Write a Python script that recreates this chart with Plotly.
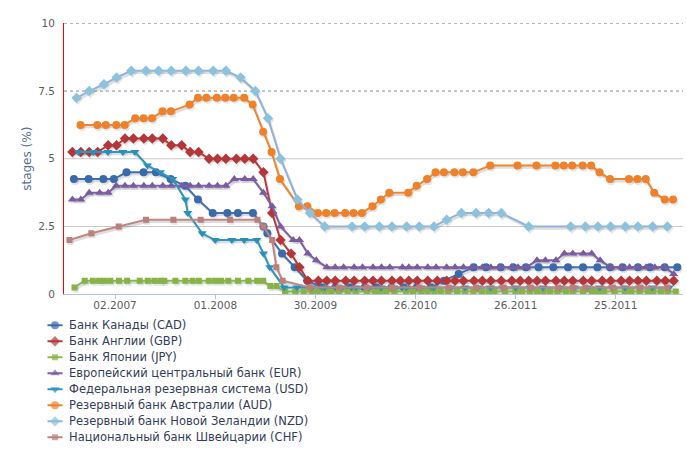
import plotly.graph_objects as go

# ---------------- data ----------------
tick_dates = ["2007-06-02", "2008-05-01", "2009-03-30", "2010-02-26", "2011-01-26", "2011-12-25"]
y_ticks = [0, 2.5, 5, 7.5, 10]

cad_dates = ["2007-01-16", "2007-03-06", "2007-04-24", "2007-05-29", "2007-07-10", "2007-09-05", "2007-10-16", "2007-12-04",
             "2008-01-22", "2008-03-04", "2008-04-22", "2008-06-10", "2008-07-15", "2008-09-03", "2008-10-08", "2008-10-21", "2008-12-09",
             "2009-01-20", "2009-03-03", "2009-04-21", "2009-06-04", "2009-07-23", "2009-09-10", "2009-10-20", "2009-12-08",
             "2010-01-19", "2010-03-02", "2010-04-20", "2010-06-01", "2010-07-20", "2010-09-08", "2010-10-19", "2010-12-07",
             "2011-01-18", "2011-03-01", "2011-04-12", "2011-05-31", "2011-07-19", "2011-09-07", "2011-10-25", "2011-12-06",
             "2012-01-17", "2012-03-08", "2012-04-17", "2012-06-05", "2012-07-17"]
cad_rates = [4.25, 4.25, 4.25, 4.25, 4.5, 4.5, 4.5, 4.25,
             4.0, 3.5, 3.0, 3.0, 3.0, 3.0, 2.5, 2.25, 1.5,
             1.0, 0.5, 0.25, 0.25, 0.25, 0.25, 0.25, 0.25,
             0.25, 0.25, 0.25, 0.5, 0.75, 1.0, 1.0, 1.0,
             1.0, 1.0, 1.0, 1.0, 1.0, 1.0, 1.0, 1.0,
             1.0, 1.0, 1.0, 1.0, 1.0]

gbp_dates = ["2007-01-11", "2007-02-08", "2007-03-08", "2007-04-05", "2007-05-10", "2007-06-07", "2007-07-05", "2007-08-02", "2007-09-06", "2007-10-04", "2007-11-08", "2007-12-06",
             "2008-01-10", "2008-02-07", "2008-03-06", "2008-04-10", "2008-05-08", "2008-06-05", "2008-07-10", "2008-08-07", "2008-09-04", "2008-10-08", "2008-11-06", "2008-12-04",
             "2009-01-08", "2009-02-05", "2009-03-05", "2009-04-09", "2009-05-07", "2009-06-04", "2009-07-09", "2009-08-06", "2009-09-10", "2009-10-08", "2009-11-05", "2009-12-10",
             "2010-01-07", "2010-02-04", "2010-03-04", "2010-04-08", "2010-05-10", "2010-06-10", "2010-07-08", "2010-08-05", "2010-09-09", "2010-10-07", "2010-11-04", "2010-12-09",
             "2011-01-13", "2011-02-10", "2011-03-10", "2011-04-07", "2011-05-05", "2011-06-09", "2011-07-07", "2011-08-04", "2011-09-08", "2011-10-06", "2011-11-10", "2011-12-08",
             "2012-01-12", "2012-02-09", "2012-03-08", "2012-04-05", "2012-05-10", "2012-06-07", "2012-07-05"]
gbp_rates = [5.25, 5.25, 5.25, 5.25, 5.5, 5.5, 5.75, 5.75, 5.75, 5.75, 5.75, 5.5,
             5.5, 5.25, 5.25, 5.0, 5.0, 5.0, 5.0, 5.0, 5.0, 4.5, 3.0, 2.0,
             1.5, 1.0, 0.5, 0.5, 0.5, 0.5, 0.5, 0.5, 0.5, 0.5, 0.5, 0.5,
             0.5, 0.5, 0.5, 0.5, 0.5, 0.5, 0.5, 0.5, 0.5, 0.5, 0.5, 0.5,
             0.5, 0.5, 0.5, 0.5, 0.5, 0.5, 0.5, 0.5, 0.5, 0.5, 0.5, 0.5,
             0.5, 0.5, 0.5, 0.5, 0.5, 0.5, 0.5]

jpy_dates = ["2007-01-18", "2007-02-21", "2007-03-20", "2007-04-10", "2007-04-27", "2007-05-17", "2007-06-15", "2007-07-12", "2007-08-23", "2007-09-19", "2007-10-11", "2007-10-31", "2007-11-13", "2007-12-20",
             "2008-01-22", "2008-02-15", "2008-03-07", "2008-04-09", "2008-04-30", "2008-05-20", "2008-06-13", "2008-07-15", "2008-08-19", "2008-09-17", "2008-10-07", "2008-10-31", "2008-11-21", "2008-12-19",
             "2009-01-22", "2009-02-19", "2009-03-18", "2009-04-07", "2009-04-30", "2009-05-22", "2009-06-16", "2009-07-15", "2009-08-11", "2009-09-17", "2009-10-14", "2009-10-30", "2009-11-20", "2009-12-18",
             "2010-01-26", "2010-02-18", "2010-03-17", "2010-04-07", "2010-04-30", "2010-05-21", "2010-06-15", "2010-07-15", "2010-08-10", "2010-09-07", "2010-10-05", "2010-10-28", "2010-11-16", "2010-12-21",
             "2011-01-25", "2011-02-15", "2011-03-14", "2011-04-07", "2011-04-28", "2011-05-20", "2011-06-14", "2011-07-12", "2011-08-04", "2011-09-07", "2011-10-07", "2011-10-27", "2011-11-16", "2011-12-21",
             "2012-01-24", "2012-02-14", "2012-03-13", "2012-04-10", "2012-04-27", "2012-05-23", "2012-06-15", "2012-07-12"]
jpy_rates = [0.25, 0.5, 0.5, 0.5, 0.5, 0.5, 0.5, 0.5, 0.5, 0.5, 0.5, 0.5, 0.5, 0.5,
             0.5, 0.5, 0.5, 0.5, 0.5, 0.5, 0.5, 0.5, 0.5, 0.5, 0.5, 0.3, 0.3, 0.1,
             0.1, 0.1, 0.1, 0.1, 0.1, 0.1, 0.1, 0.1, 0.1, 0.1, 0.1, 0.1, 0.1, 0.1,
             0.1, 0.1, 0.1, 0.1, 0.1, 0.1, 0.1, 0.1, 0.1, 0.1, 0.1, 0.1, 0.1, 0.1,
             0.1, 0.1, 0.1, 0.1, 0.1, 0.1, 0.1, 0.1, 0.1, 0.1, 0.1, 0.1, 0.1, 0.1,
             0.1, 0.1, 0.1, 0.1, 0.1, 0.1, 0.1, 0.1]

eur_dates = ["2007-01-11", "2007-02-08", "2007-03-08", "2007-04-12", "2007-05-10", "2007-06-06", "2007-07-05", "2007-08-02", "2007-09-06", "2007-10-04", "2007-11-08", "2007-12-06",
             "2008-01-10", "2008-02-07", "2008-03-06", "2008-04-10", "2008-05-08", "2008-06-05", "2008-07-03", "2008-08-07", "2008-09-04", "2008-10-08", "2008-11-06", "2008-12-04",
             "2009-01-15", "2009-02-05", "2009-03-05", "2009-04-02", "2009-05-07", "2009-06-04", "2009-07-02", "2009-08-06", "2009-09-03", "2009-10-08", "2009-11-05", "2009-12-03",
             "2010-01-14", "2010-02-04", "2010-03-04", "2010-04-08", "2010-05-06", "2010-06-10", "2010-07-08", "2010-08-05", "2010-09-02", "2010-10-07", "2010-11-04", "2010-12-02",
             "2011-01-13", "2011-02-03", "2011-03-03", "2011-04-07", "2011-05-05", "2011-06-09", "2011-07-07", "2011-08-04", "2011-09-08", "2011-10-06", "2011-11-03", "2011-12-08",
             "2012-01-12", "2012-02-09", "2012-03-08", "2012-04-04", "2012-05-03", "2012-06-06", "2012-07-05"]
eur_rates = [3.5, 3.5, 3.75, 3.75, 3.75, 4.0, 4.0, 4.0, 4.0, 4.0, 4.0, 4.0,
             4.0, 4.0, 4.0, 4.0, 4.0, 4.0, 4.25, 4.25, 4.25, 3.75, 3.25, 2.5,
             2.0, 2.0, 1.5, 1.25, 1.0, 1.0, 1.0, 1.0, 1.0, 1.0, 1.0, 1.0,
             1.0, 1.0, 1.0, 1.0, 1.0, 1.0, 1.0, 1.0, 1.0, 1.0, 1.0, 1.0,
             1.0, 1.0, 1.0, 1.25, 1.25, 1.25, 1.5, 1.5, 1.5, 1.5, 1.25, 1.0,
             1.0, 1.0, 1.0, 1.0, 1.0, 1.0, 0.75]

usd_dates = ["2007-01-31", "2007-03-21", "2007-05-09", "2007-06-28", "2007-08-07", "2007-09-18", "2007-10-31", "2007-12-11",
             "2008-01-22", "2008-01-30", "2008-03-18", "2008-04-30", "2008-06-25", "2008-08-05", "2008-09-16", "2008-10-08", "2008-10-29", "2008-12-16",
             "2009-01-28", "2009-03-18", "2009-04-29", "2009-06-24", "2009-08-12", "2009-09-23", "2009-11-04", "2009-12-16",
             "2010-01-27", "2010-03-16", "2010-04-28", "2010-06-23", "2010-08-10", "2010-09-21", "2010-11-03", "2010-12-14",
             "2011-01-26", "2011-03-15", "2011-04-27", "2011-06-22", "2011-08-09", "2011-09-21", "2011-11-02", "2011-12-13",
             "2012-01-25", "2012-03-13", "2012-04-25", "2012-06-20"]
usd_rates = [5.25, 5.25, 5.25, 5.25, 5.25, 4.75, 4.5, 4.25,
             3.5, 3.0, 2.25, 2.0, 2.0, 2.0, 2.0, 1.5, 1.0, 0.25,
             0.25, 0.25, 0.25, 0.25, 0.25, 0.25, 0.25, 0.25,
             0.25, 0.25, 0.25, 0.25, 0.25, 0.25, 0.25, 0.25,
             0.25, 0.25, 0.25, 0.25, 0.25, 0.25, 0.25, 0.25,
             0.25, 0.25, 0.25, 0.25]

aud_dates = ["2007-02-07", "2007-04-04", "2007-05-02", "2007-06-06", "2007-07-04", "2007-08-08", "2007-09-05", "2007-10-03", "2007-11-07", "2007-12-05",
             "2008-02-05", "2008-03-04", "2008-04-01", "2008-05-06", "2008-06-03", "2008-07-01", "2008-08-05", "2008-09-02", "2008-10-07", "2008-11-04", "2008-12-02",
             "2009-02-03", "2009-03-03", "2009-04-07", "2009-05-05", "2009-06-02", "2009-07-07", "2009-08-04", "2009-09-01", "2009-10-06", "2009-11-03", "2009-12-01",
             "2010-02-02", "2010-03-02", "2010-04-06", "2010-05-04", "2010-06-01", "2010-07-06", "2010-08-03", "2010-09-07", "2010-11-02",
             "2011-02-01", "2011-04-05", "2011-06-07", "2011-07-05", "2011-08-02", "2011-09-06", "2011-10-04", "2011-11-01", "2011-12-06",
             "2012-02-07", "2012-03-06", "2012-04-03", "2012-05-01", "2012-06-05", "2012-07-03"]
aud_rates = [6.25, 6.25, 6.25, 6.25, 6.25, 6.5, 6.5, 6.5, 6.75, 6.75,
             7.0, 7.25, 7.25, 7.25, 7.25, 7.25, 7.25, 7.0, 6.0, 5.25, 4.25,
             3.25, 3.25, 3.0, 3.0, 3.0, 3.0, 3.0, 3.0, 3.25, 3.5, 3.75,
             3.75, 4.0, 4.25, 4.5, 4.5, 4.5, 4.5, 4.5, 4.75,
             4.75, 4.75, 4.75, 4.75, 4.75, 4.75, 4.75, 4.5, 4.25,
             4.25, 4.25, 4.25, 3.75, 3.5, 3.5]

nzd_dates = ["2007-01-25", "2007-03-08", "2007-04-26", "2007-06-07", "2007-07-26", "2007-09-13", "2007-10-25", "2007-12-06",
             "2008-01-24", "2008-03-06", "2008-04-24", "2008-06-05", "2008-07-24", "2008-09-11", "2008-10-23", "2008-12-04",
             "2009-01-29", "2009-03-12", "2009-04-30", "2009-07-30", "2009-09-10", "2009-10-29", "2009-12-10",
             "2010-01-28", "2010-03-11", "2010-04-29", "2010-06-10", "2010-07-29", "2010-09-16", "2010-10-28", "2010-12-09",
             "2011-03-10", "2011-07-28", "2011-09-15", "2011-10-27", "2011-12-08",
             "2012-01-26", "2012-03-08", "2012-04-26", "2012-06-14"]
nzd_rates = [7.25, 7.5, 7.75, 8.0, 8.25, 8.25, 8.25, 8.25,
             8.25, 8.25, 8.25, 8.25, 8.0, 7.5, 6.5, 5.0,
             3.5, 3.0, 2.5, 2.5, 2.5, 2.5, 2.5,
             2.5, 2.5, 2.5, 2.75, 3.0, 3.0, 3.0, 3.0,
             2.5, 2.5, 2.5, 2.5, 2.5,
             2.5, 2.5, 2.5, 2.5]

chf_dates = ["2007-01-01", "2007-03-15", "2007-06-14", "2007-09-13", "2007-12-13",
             "2008-03-13", "2008-06-19", "2008-09-18", "2008-10-08", "2008-11-06", "2008-11-20", "2008-12-11",
             "2009-03-12", "2009-06-18", "2009-09-17", "2009-12-10",
             "2010-03-11", "2010-06-17", "2010-09-16", "2010-12-16",
             "2011-03-17", "2011-06-16", "2011-08-03", "2011-09-15", "2011-12-15",
             "2012-03-15", "2012-06-14"]
chf_rates = [2.0, 2.25, 2.5, 2.75, 2.75,
             2.75, 2.75, 2.75, 2.5, 2.0, 1.0, 0.5,
             0.25, 0.25, 0.25, 0.25,
             0.25, 0.25, 0.25, 0.25,
             0.25, 0.25, 0.25, 0.25, 0.25,
             0.25, 0.25]

series_names = ["Банк Канады (CAD)", "Банк Англии (GBP)", "Банк Японии (JPY)",
                "Европейский центральный банк (EUR)", "Федеральная резервная система (USD)",
                "Резервный банк Австралии (AUD)", "Резервный банк Новой Зеландии (NZD)",
                "Национальный банк Швейцарии (CHF)"]
series_x = [cad_dates, gbp_dates, jpy_dates, eur_dates, usd_dates, aud_dates, nzd_dates, chf_dates]
series_y = [cad_rates, gbp_rates, jpy_rates, eur_rates, usd_rates, aud_rates, nzd_rates, chf_rates]

# ---------------- style ----------------
line_colors = ["#3f70b3", "#bb3b3d", "#8cb84c", "#7e60a5", "#2f96c0", "#f0852f", "#90b2dc", "#c08581"]
marker_colors = ["#3a6aab", "#b53639", "#86b246", "#7a5ba1", "#2a90ba", "#ee8129", "#8cc2dd", "#bb807c"]
symbols = ["circle", "diamond", "square", "triangle-up", "triangle-down", "circle", "diamond", "square"]
msizes = [8, 8, 6, 8, 8, 8, 8, 6]

W, H = 687, 451
PL, PR, PT, PB = 64, 683, 17.8, 296.1
FONT = "DejaVu Sans"
X_RANGE = ["2006-12-14", "2012-08-05"]
SHADOW_X_RANGE = ["2006-12-10", "2012-08-01"]   # shadow ~1px to the right
SHADOW_DY = 0.075                                # shadow ~2px lower

fig = go.Figure()

# soft drop shadows (base axes, hidden)
for xs, ys, sym, ms in zip(series_x, series_y, symbols, msizes):
    fig.add_trace(go.Scatter(
        x=xs, y=ys, mode="lines+markers",
        line=dict(color="rgba(0,0,0,0.13)", width=2.5),
        marker=dict(symbol=sym, size=ms, color="rgba(0,0,0,0.10)", line=dict(width=0)),
        xaxis="x", yaxis="y", showlegend=False, hoverinfo="skip",
    ))

# series (overlay axes with the visible scale)
for name, xs, ys, lc, mc, sym, ms in zip(series_names, series_x, series_y, line_colors, marker_colors, symbols, msizes):
    fig.add_trace(go.Scatter(
        x=xs, y=ys, name=name, mode="lines+markers",
        line=dict(color=lc, width=2),
        marker=dict(symbol=sym, size=ms, color=mc, line=dict(width=0)),
        xaxis="x3", yaxis="y3", showlegend=False,
    ))

# manual legend (compact rows like the reference)
LEG_TOP, LEG_STEP = 328.0, 16.45
for i, (name, lc, mc, sym, ms) in enumerate(zip(series_names, line_colors, marker_colors, symbols, msizes)):
    ry = LEG_TOP + i * LEG_STEP
    fig.add_trace(go.Scatter(
        x=[47.5, 55, 62.5], y=[ry, ry, ry], mode="lines+markers",
        line=dict(color=lc, width=2),
        marker=dict(symbol=sym, size=[0, ms, 0], color=mc, line=dict(width=0)),
        xaxis="x2", yaxis="y2", showlegend=False, hoverinfo="skip",
    ))
    fig.add_annotation(x=66.5, y=ry, xref="x2", yref="y2", text=name, showarrow=False,
                       xanchor="left", yanchor="middle",
                       font=dict(family=FONT, size=11.5, color="#333d57"))

# gridlines
grid_solid = [2.5, 5]
grid_dotted = [7.5, 10]
for gy in grid_solid:
    fig.add_shape(type="line", xref="x3 domain", yref="y3", x0=0, x1=1, y0=gy, y1=gy,
                  line=dict(color="#c9c9c9", width=1), layer="below")
for gy in grid_dotted:
    fig.add_shape(type="line", xref="x3 domain", yref="y3", x0=0, x1=1, y0=gy, y1=gy,
                  line=dict(color="#8a8a8a", width=1, dash="dot"), layer="below")

# y axis title
fig.add_annotation(x=27 / W, y=(H - 157) / H, xref="paper", yref="paper", text="stages (%)",
                   showarrow=False, textangle=-90, xanchor="center", yanchor="middle",
                   font=dict(family=FONT, size=12, color="#56728f"))

fig.update_layout(
    width=W, height=H,
    margin=dict(l=0, r=0, t=0, b=0),
    paper_bgcolor="white", plot_bgcolor="white",
    showlegend=False,
    font=dict(family=FONT, size=11, color="#555555"),
    xaxis=dict(domain=[PL / W, PR / W], type="date", range=SHADOW_X_RANGE, visible=False, anchor="y"),
    yaxis=dict(domain=[(H - PB) / H, (H - PT) / H], range=[SHADOW_DY, 10 + SHADOW_DY], visible=False, anchor="x"),
    xaxis3=dict(overlaying="x", type="date", range=X_RANGE,
                tickvals=tick_dates, tickformat="%d.%Y", ticks="outside", ticklen=4,
                tickcolor="#b8c4d0", showgrid=False, zeroline=False,
                showline=True, linecolor="#b5c6d8", linewidth=1, ticklabelstandoff=-3,
                tickfont=dict(family=FONT, size=10.5, color="#5c5c5c"), anchor="y3"),
    yaxis3=dict(overlaying="y", range=[0, 10], tickvals=y_ticks,
                showgrid=False, zeroline=False, showline=True, linecolor="#ff0000", linewidth=1,
                ticks="outside", ticklen=6, tickcolor="rgba(0,0,0,0)",
                tickfont=dict(family=FONT, size=10.5, color="#5c5c5c"), anchor="x3"),
    xaxis2=dict(domain=[0, 1], range=[0, W], visible=False, anchor="y2"),
    yaxis2=dict(domain=[0, (H - 310) / H], range=[H, 310], visible=False, anchor="x2"),
)

fig.write_html("out.html", config={"displayModeBar": False},
               post_script="document.body.style.margin='0px';document.body.style.overflow='hidden';")
